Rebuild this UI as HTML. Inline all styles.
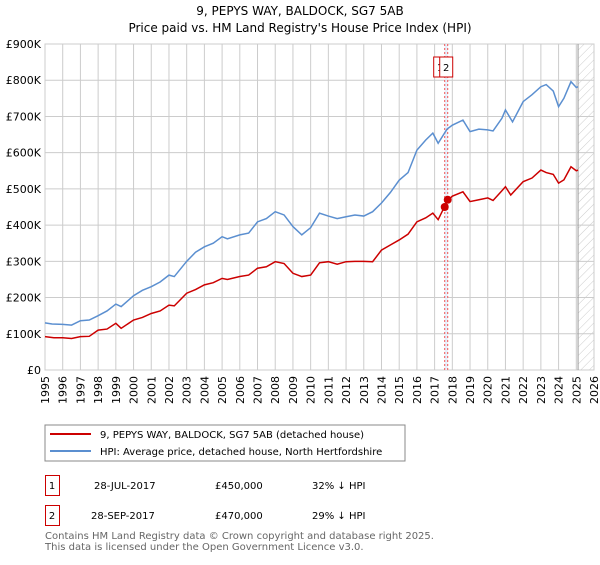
<!DOCTYPE html>
<html><head><meta charset="utf-8"><style>
body{margin:0;background:#fff;font-family:"Liberation Sans","DejaVu Sans",sans-serif}
svg text{font-family:"DejaVu Sans","Liberation Sans",sans-serif}
</style></head><body>
<svg id="c" width="600" height="560" xmlns="http://www.w3.org/2000/svg">
<defs><pattern id="h" width="6" height="6" patternUnits="userSpaceOnUse" patternTransform="rotate(45)"><line x1="0" y1="0" x2="0" y2="6" stroke="#ccc" stroke-width="1"/></pattern></defs>
<text x="300" y="15" text-anchor="middle" font-size="12" fill="#000">9, PEPYS WAY, BALDOCK, SG7 5AB</text>
<text x="300" y="32" text-anchor="middle" font-size="12" fill="#000">Price paid vs. HM Land Registry's House Price Index (HPI)</text>
<g id="grid"></g><g id="ax"></g><g id="ser"></g>
<rect x="45" y="425" width="360" height="36" fill="#fff" stroke="#888"/>
<line x1="50" y1="434" x2="91" y2="434" stroke="#cc0000" stroke-width="2"/>
<text x="100" y="438" font-size="10">9, PEPYS WAY, BALDOCK, SG7 5AB (detached house)</text>
<line x1="50" y1="451" x2="91" y2="451" stroke="#5b8fd0" stroke-width="2"/>
<text x="100" y="455" font-size="10">HPI: Average price, detached house, North Hertfordshire</text>
<g font-size="10">
<rect x="45.5" y="475.5" width="14" height="20" fill="none" stroke="#cc0000"/><text x="52" y="489" text-anchor="middle">1</text>
<text x="94" y="489">28-JUL-2017</text><text x="215" y="489">£450,000</text><text x="312" y="489">32% ↓ HPI</text>
<rect x="45.5" y="505.5" width="14" height="20" fill="none" stroke="#cc0000"/><text x="52" y="519" text-anchor="middle">2</text>
<text x="91" y="519">28-SEP-2017</text><text x="215" y="519">£470,000</text><text x="312" y="519">29% ↓ HPI</text>
</g>
<text x="45" y="539" font-size="10" fill="#666">Contains HM Land Registry data © Crown copyright and database right 2025.</text>
<text x="45" y="550" font-size="10" fill="#666">This data is licensed under the Open Government Licence v3.0.</text>
</svg>
<script>
const hpiDates=[1995,1995.4,1996,1996.5,1997,1997.5,1998,1998.5,1999,1999.3,2000,2000.5,2001,2001.5,2002,2002.3,2003,2003.5,2004,2004.5,2005,2005.3,2006,2006.5,2007,2007.5,2008,2008.5,2009,2009.5,2010,2010.5,2011,2011.5,2012,2012.5,2013,2013.5,2014,2014.5,2015,2015.5,2016,2016.5,2016.9,2017.2,2017.7,2018,2018.6,2019,2019.5,2020,2020.3,2020.8,2021,2021.4,2022,2022.5,2023,2023.3,2023.7,2024,2024.3,2024.7,2025,2025.1];
const hpiValues=[130,127,126,124,136,138,150,163,182,175,205,220,230,243,262,258,300,325,340,350,368,362,373,378,409,418,437,428,396,373,393,433,425,418,423,428,425,437,461,490,524,545,607,635,654,626,665,676,690,658,665,663,660,695,718,685,741,760,782,788,770,727,750,796,780,782];
const ppDates=[1995,1995.5,1996,1996.5,1997,1997.5,1998,1998.5,1999,1999.3,2000,2000.5,2001,2001.5,2002,2002.3,2003,2003.5,2004,2004.5,2005,2005.3,2006,2006.5,2007,2007.5,2008,2008.5,2009,2009.5,2010,2010.5,2011,2011.5,2012,2012.5,2013,2013.5,2014,2014.5,2015,2015.5,2016,2016.5,2016.9,2017.2,2017.7,2018,2018.6,2019,2019.5,2020,2020.3,2020.8,2021,2021.3,2022,2022.5,2023,2023.3,2023.7,2024,2024.3,2024.7,2025,2025.1];
const ppValues=[92,89,89,87,92,93,110,113,129,115,138,145,156,163,179,177,212,222,235,241,253,250,258,262,281,285,299,294,267,258,262,296,299,292,299,300,300,299,331,345,359,375,409,420,433,415,465,480,492,465,470,475,468,495,506,483,520,530,552,545,540,516,525,561,550,552];
const saleDates=[2017.57,2017.74];
const saleValues=[450,470];
const saleLabels=["1","2"];
const yTicks=[0,100,200,300,400,500,600,700,800,900];
const yTickLabels=["£0","£100K","£200K","£300K","£400K","£500K","£600K","£700K","£800K","£900K"];
const xTicks=[1995,1996,1997,1998,1999,2000,2001,2002,2003,2004,2005,2006,2007,2008,2009,2010,2011,2012,2013,2014,2015,2016,2017,2018,2019,2020,2021,2022,2023,2024,2025,2026];
const NS="http://www.w3.org/2000/svg";
const L=45,R=594,T=44,B=370;
const xs=d=>L+(d-1995)/(2026-1995)*(R-L);
const ys=v=>B-v/900*(B-T);
function mk(p,tag,at){const e=document.createElementNS(NS,tag);for(const k in at)e.setAttribute(k,at[k]);p.appendChild(e);return e;}
const grid=document.getElementById('grid'),ax=document.getElementById('ax'),ser=document.getElementById('ser');
const bg=mk(grid,'rect',{x:L,y:T,width:R-L,height:B-T,fill:'#fff',stroke:'#ccc'});


yTicks.forEach((v,i)=>{
 const g=mk(grid,'line',{x1:L,x2:R,y1:ys(v),y2:ys(v),stroke:'#ccc'});
 
 
 const t=mk(ax,'text',{x:L-4,y:ys(v)+4,'text-anchor':'end','font-size':11});
 t.textContent=yTickLabels[i];
 
 
});
xTicks.forEach(d=>{
 const g=mk(grid,'line',{x1:xs(d),x2:xs(d),y1:T,y2:B,stroke:'#ccc'});
 
 
 const t=mk(ax,'text',{x:0,y:0,'text-anchor':'end','font-size':11,transform:`translate(${xs(d)+4},${B+6}) rotate(-90)`});
 t.textContent=d;
 
 
});
const hx=xs(2025.1);
const hatch=mk(grid,'rect',{x:hx,y:T,width:R-hx,height:B-T,fill:'url(#h)'});


const hl=mk(grid,'line',{x1:hx,x2:hx,y1:T,y2:B,stroke:'#999'});


const band=mk(ser,'rect',{x:xs(saleDates[0]),y:T,width:xs(saleDates[1])-xs(saleDates[0]),height:B-T,fill:'#e8eefa'});


saleDates.forEach(d=>{
 const l=mk(ser,'line',{x1:xs(d),x2:xs(d),y1:T,y2:B,stroke:'#ee5555','stroke-dasharray':'2,2'});
 
 
});
function line(D,V,c,n){
 const p=mk(ser,'polyline',{points:D.map((d,i)=>xs(d)+','+ys(V[i])).join(' '),fill:'none',stroke:c,'stroke-width':1.5});
 
 
}
line(hpiDates,hpiValues,'#5b8fd0','hpi-line');
line(ppDates,ppValues,'#cc0000','price-paid-line');
saleDates.forEach((d,i)=>{
 const c=mk(ser,'circle',{cx:xs(d),cy:ys(saleValues[i]),r:4,fill:'#cc0000'});
 
 
 const bx=xs(d)-11+i*3;
 const r=mk(ser,'rect',{x:bx,y:57,width:13,height:20,fill:'#fff',stroke:'#cc0000'});
 
 
 const t=mk(ser,'text',{x:bx+6.5,y:71,'text-anchor':'middle','font-size':10});
 t.textContent=saleLabels[i];
 
 
});
</script>
</body></html>
